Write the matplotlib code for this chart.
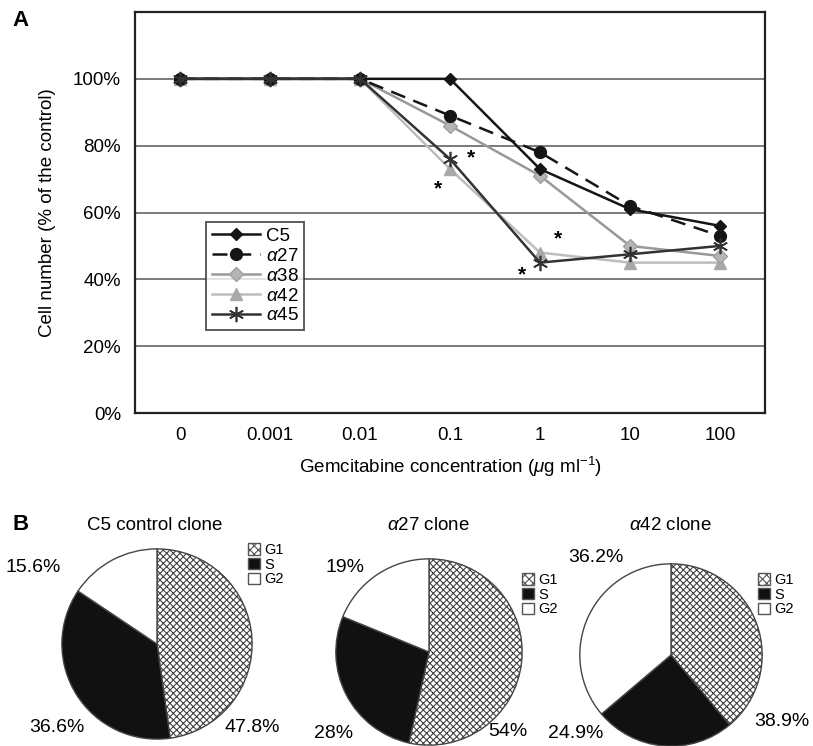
import matplotlib
matplotlib.use('Agg')
import matplotlib.pyplot as plt
import matplotlib.patches as mpatches
import numpy as np

plt.rcParams['font.family'] = ['Liberation Sans', 'DejaVu Sans']
plt.rcParams['mathtext.fontset'] = 'custom'
plt.rcParams['mathtext.rm'] = 'Liberation Sans'
plt.rcParams['mathtext.it'] = 'Liberation Sans:italic'
plt.rcParams['hatch.linewidth'] = 0.8

# panel A data
concentrations = ['0', '0.001', '0.01', '0.1', '1', '10', '100']
c5 = [100, 100, 100, 100, 73, 61, 56]
a27 = [100, 100, 100, 89, 78, 62, 53]
a38 = [100, 100, 100, 86, 71, 50, 47]
a42 = [100, 100, 100, 73, 48, 45, 45]
a45 = [100, 100, 100, 76, 45, 47.5, 50]

# panel B data (G1, S, G2)
phases = ['G1', 'S', 'G2']
pie_titles = ['C5 control clone', r'$\alpha$27 clone', r'$\alpha$42 clone']
c5_cycle = [47.8, 36.6, 15.6]
a27_cycle = [54, 28, 19]
a42_cycle = [38.9, 24.9, 36.2]
c5_labels = ['47.8%', '36.6%', '15.6%']
a27_labels = ['54%', '28%', '19%']
a42_labels = ['38.9%', '24.9%', '36.2%']

W, H = 813, 746
fig = plt.figure(figsize=(W / 100, H / 100), dpi=100)


def px_axes(x0, y0, x1, y1):
    # pixel box (top-left origin) -> figure axes
    return fig.add_axes([x0 / W, 1 - y1 / H, (x1 - x0) / W, (y1 - y0) / H])


# ---------- panel A ----------
ax = px_axes(135, 12, 765, 413)
x = np.arange(len(concentrations))

for yv in [20, 40, 60, 80, 100]:
    ax.axhline(yv, color='#7a7a7a', lw=1.4, zorder=0)

ax.plot(x, c5, color='#151515', lw=1.8, marker='D', ms=6, label='C5', zorder=5)
ax.plot(x, a27, color='#151515', lw=1.8, ls=(0, (6, 3.5)), marker='o', ms=8.5, label=r'$\alpha$27', zorder=4)
ax.plot(x, a38, color='#999999', lw=1.8, marker='D', ms=7, mfc='#b5b5b5', mec='#a0a0a0', label=r'$\alpha$38', zorder=3)
ax.plot(x, a42, color='#bdbdbd', lw=1.8, marker='^', ms=8, mfc='#a8a8a8', mec='#a8a8a8', label=r'$\alpha$42', zorder=2)
ax.plot(x, a45, color='#333333', lw=1.8, marker=(6, 2, 0), ms=11, mew=1.2, label=r'$\alpha$45', zorder=6)

# significance stars (point index, value, offset in points)
stars = [(3, a45[3], 15, 1), (3, a42[3], -9, -14), (4, a42[4], 13, 10), (4, a45[4], -13, -9)]
for sx, sy, dx, dy in stars:
    ax.annotate('*', (sx, sy), xytext=(dx, dy), textcoords='offset points',
                ha='center', va='center', fontsize=15, fontweight='bold')

ax.set_xlim(-0.5, 6.5)
ax.set_ylim(0, 120)
ax.set_xticks(x)
ax.set_xticklabels(concentrations)
ax.set_yticks([0, 20, 40, 60, 80, 100])
ax.set_yticklabels(['0%', '20%', '40%', '60%', '80%', '100%'])
ax.tick_params(axis='both', length=0, labelsize=13.5, pad=10)
for sp in ax.spines.values():
    sp.set_linewidth(1.6)
    sp.set_color('#222222')
ax.set_ylabel('Cell number (% of the control)', fontsize=13.5, labelpad=12)
ax.set_xlabel(r'Gemcitabine concentration ($\mu$g ml$^{-1}$)', fontsize=13.5, labelpad=8)

leg = ax.legend(loc='upper left', bbox_to_anchor=(206 / W, 1 - 222 / H), bbox_transform=fig.transFigure,
                fontsize=13.5, frameon=True, fancybox=False, edgecolor='#333333', borderaxespad=0,
                handlelength=2.6, labelspacing=0.15, borderpad=0.3, handletextpad=0.3)
leg.get_frame().set_linewidth(1.4)

fig.text(12 / W, 1 - 20 / H, 'A', fontsize=16, fontweight='bold', va='center')
fig.text(12 / W, 1 - 524 / H, 'B', fontsize=16, fontweight='bold', va='center')

# ---------- panel B ----------
pie_data = [c5_cycle, a27_cycle, a42_cycle]
pie_text = [c5_labels, a27_labels, a42_labels]
pie_boxes = [(59, 547, 255, 741), (334, 557, 524, 747), (578, 562, 764, 748)]
title_pos = [(155, 526), (428, 526), (670, 526)]
# label positions in pixels (G1, S, G2)
label_pos = [[(252, 727), (57, 727), (33, 567)],
             [(508, 732), (334, 733), (345, 568)],
             [(782, 722), (576, 733), (596, 557)]]
legend_pos = [(248, 543), (522, 573), (758, 573)]

for vals, txts, box, lpos, gpos in zip(pie_data, pie_text, pie_boxes, label_pos, legend_pos):
    pax = px_axes(*box)
    wedges, _ = pax.pie(vals, startangle=90, counterclock=False,
                        colors=['white', '#111111', 'white'],
                        wedgeprops=dict(edgecolor='#444444', linewidth=1.0))
    wedges[0].set_hatch('xxxxx')
    pax.set_xlim(-1.02, 1.02)
    pax.set_ylim(-1.02, 1.02)
    for t, (lx, ly) in zip(txts, lpos):
        fig.text(lx / W, 1 - ly / H, t, fontsize=14, ha='center', va='center')
    handles = [mpatches.Patch(facecolor='white', edgecolor='#555555', hatch='xxxx', label=phases[0]),
               mpatches.Patch(facecolor='#111111', edgecolor='#555555', label=phases[1]),
               mpatches.Patch(facecolor='white', edgecolor='#555555', label=phases[2])]
    fig.legend(handles=handles, loc='upper left', bbox_to_anchor=(gpos[0] / W, 1 - gpos[1] / H),
               frameon=False, fontsize=10.5, handlelength=0.8, handleheight=0.8,
               labelspacing=0.05, handletextpad=0.3, borderpad=0, borderaxespad=0)

for title, (tx, ty) in zip(pie_titles, title_pos):
    fig.text(tx / W, 1 - ty / H, title, fontsize=13.5, ha='center', va='center')

fig.savefig('out.png', dpi=100)
